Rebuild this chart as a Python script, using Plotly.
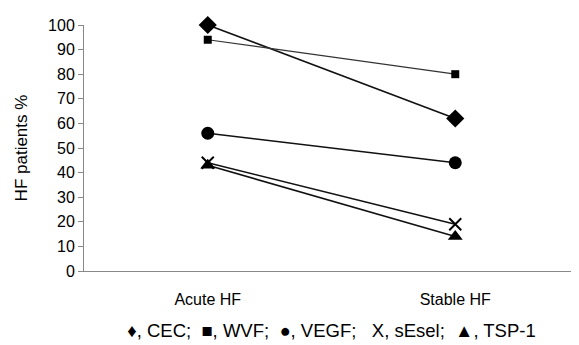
import plotly.graph_objects as go

categories = ["Acute HF", "Stable HF"]
cec = [100, 62]
vwf = [94, 80]
vegf = [56, 44]
sesel = [44, 19]
tsp1 = [43, 14]
y_ticks = [0, 10, 20, 30, 40, 50, 60, 70, 80, 90, 100]

series = [
    ("CEC", cec, "diamond", 14, 1.6, "#111111"),
    ("vWF", vwf, "square", 8, 1.2, "#333333"),
    ("VEGF", vegf, "circle", 13, 1.6, "#111111"),
    ("sEsel", sesel, "x-thin", 12, 1.6, "#111111"),
    ("TSP-1", tsp1, "triangle-up", 13, 1.6, "#111111"),
]

fig = go.Figure()
for name, vals, sym, size, lw, lc in series:
    fig.add_trace(go.Scatter(
        x=categories, y=vals, name=name, mode="lines+markers",
        line=dict(color=lc, width=lw),
        marker=dict(symbol=sym, size=size, color="#000000",
                    line=dict(color="#000000", width=2 if sym == "x-thin" else 0)),
        cliponaxis=False,
    ))

caption = "\u2666, CEC;  \u25a0, WVF;  \u25cf, VEGF;   X, sEsel;  \u25b2, TSP-1"

fig.update_layout(
    width=579, height=345,
    margin=dict(l=76, r=8, t=17, b=82),
    paper_bgcolor="white", plot_bgcolor="white",
    showlegend=False,
    font=dict(family="Liberation Sans, Arial, sans-serif", size=16, color="#000000"),
    xaxis=dict(
        type="category", showgrid=False, showline=True, linecolor="#888888",
        linewidth=1, ticks="", tickfont=dict(size=16), range=[-0.5, 1.5],
        ticklabelstandoff=14,
        title=dict(text=caption, font=dict(size=18.5), standoff=16),
    ),
    yaxis=dict(
        range=[0, 100], tickvals=y_ticks, showgrid=False, showline=True,
        linecolor="#888888", linewidth=1, ticks="outside", ticklen=5,
        tickcolor="#888888", tickfont=dict(size=16), zeroline=False,
        title=dict(text="HF patients %", font=dict(size=17), standoff=16),
    ),
)

fig.write_html("out.html")
